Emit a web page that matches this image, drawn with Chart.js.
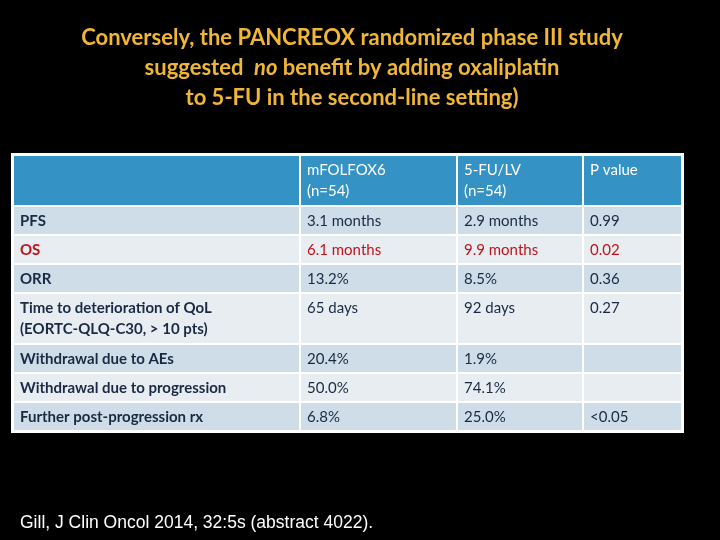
<!DOCTYPE html>
<html><head><meta charset="utf-8">
<script src="https://cdn.jsdelivr.net/npm/chart.js@4"></script>
<style>html,body{margin:0;background:#000;}#w{width:720px;height:540px;}</style>
</head><body><div id="w"><canvas id="c" width="720" height="540"></canvas></div>
<script>
const titleLines = ["Conversely, the PANCREOX randomized phase III study", "suggested  no benefit by adding oxaliplatin", "to 5-FU in the second-line setting)"];
const headers = [["",""], ["mFOLFOX6","(n=54)"], ["5-FU/LV","(n=54)"], ["P value",""]];
const rowLabels = [["PFS"],["OS"],["ORR"],["Time to deterioration of QoL","(EORTC-QLQ-C30, > 10 pts)"],["Withdrawal due to AEs"],["Withdrawal due to progression"],["Further post-progression rx"]];
const mfolfox = ["3.1 months","6.1 months","13.2%","65 days","20.4%","50.0%","6.8%"];
const fuLv = ["2.9 months","9.9 months","8.5%","92 days","1.9%","74.1%","25.0%"];
const pValues = ["0.99","0.02","0.36","0.27","","","<0.05"];
const footnote = "Gill, J Clin Oncol 2014, 32:5s (abstract 4022).";

const colX = [13, 300, 457, 583, 682];
const rowY = [155, 206, 235, 264, 293, 344, 373, 402, 431];

const tablePlugin = {
  id: 'table',
  afterDraw(chart) {
    const ctx = chart.ctx;
    ctx.save();
    ctx.fillStyle = '#000'; ctx.fillRect(0,0,720,540);
    const F = 'bold 22px Lato', FI = 'italic bold 22px Lato';
    ctx.fillStyle = '#f0b636'; ctx.textAlign = 'center'; ctx.textBaseline = 'middle';
    ctx.font = F;
    titleLines.forEach((t,i)=>{
      if (i===1) {
        const a="suggested  ", b="no", c=" benefit by adding oxaliplatin";
        ctx.font=F; const wa=ctx.measureText(a).width, wc=ctx.measureText(c).width;
        ctx.font=FI; const wb=ctx.measureText(b).width;
        let x=352-(wa+wb+wc)/2; ctx.textAlign='left';
        ctx.font=F; ctx.fillText(a,x,68); x+=wa;
        ctx.font=FI; ctx.fillText(b,x,68); x+=wb;
        ctx.font=F; ctx.fillText(c,x,68); ctx.textAlign='center';
      } else { ctx.font=F; ctx.fillText(t,352,38+i*30); }
    });
    ctx.fillStyle='#fff'; ctx.fillRect(colX[0]-2,rowY[0]-2,colX[4]-colX[0]+4,rowY[8]-rowY[0]+4);
    const nRows = rowY.length-1;
    for (let r=0;r<nRows;r++){
      for (let c=0;c<4;c++){
        ctx.fillStyle = r===0 ? '#3592c4' : (r%2===1 ? '#cfdde8' : '#e8edf2');
        ctx.fillRect(colX[c]+1, rowY[r]+1, colX[c+1]-colX[c]-2, rowY[r+1]-rowY[r]-2);
        let lines;
        if (r===0) lines = headers[c];
        else lines = c===0 ? rowLabels[r-1] : [[mfolfox,fuLv,pValues][c-1][r-1]];
        ctx.textAlign='left'; ctx.textBaseline='middle';
        ctx.fillStyle = r===0 ? '#fff' : (r===2 ? '#c0141c' : '#1a2a44');
        ctx.font = (c===0 && r>0 ? 'bold ' : '') + '15px Lato, sans-serif';
        lines.forEach((l,k)=>{ if(l) ctx.fillText(l, colX[c]+7, rowY[r]+15+k*21); });
      }
    }
    ctx.fillStyle='#fff'; ctx.font='17.5px "Liberation Sans", Arial, sans-serif'; ctx.textAlign='left';
    ctx.fillText(footnote, 20, 523);
    ctx.restore();
  }
};
new Chart(document.getElementById('c'), {
  type: 'bar',
  data: { labels: rowLabels.map(r=>r.join(' ')), datasets: [{ data: [] }] },
  options: { responsive:false, animation:false, events:[],
    plugins:{legend:{display:false},tooltip:{enabled:false}},
    scales:{x:{display:false},y:{display:false}} },
  plugins: [tablePlugin]
});
</script></body></html>
